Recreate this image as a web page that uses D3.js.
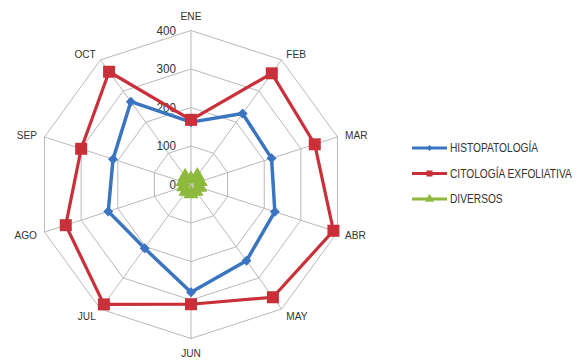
<!DOCTYPE html>
<html>
<head>
<meta charset="utf-8">
<script src="https://cdn.jsdelivr.net/npm/d3@7"></script>
<style>
  body { margin: 0; background: #fff; }
  text { font-family: "Liberation Sans", Arial, sans-serif; fill: #333; }
</style>
</head>
<body>
<svg id="chart" width="587" height="360"></svg>
<script>
// Monthly counts per service, Jan–Oct
const months = ["ENE", "FEB", "MAR", "ABR", "MAY", "JUN", "JUL", "AGO", "SEP", "OCT"];
const histopatologia = [162, 228, 220, 229, 245, 280, 205, 226, 213, 266];
const citologia = [168, 357, 338, 389, 362, 311, 385, 342, 300, 362];
const diversos = [14, 28, 25, 24, 22, 24, 22, 20, 22, 26];
const tickValues = [0, 100, 200, 300, 400];
const seriesNames = ["HISTOPATOLOGÍA", "CITOLOGÍA EXFOLIATIVA", "DIVERSOS"];

const series = [
  { name: seriesNames[0], values: histopatologia, color: "#3B74C0", width: 3.5, symbol: "diamond" },
  { name: seriesNames[1], values: citologia, color: "#C9303A", width: 3.2, symbol: "square" },
  { name: seriesNames[2], values: diversos, color: "#8DBA3C", width: 4, symbol: "triangle" }
];

const svg = d3.select("#chart");
const cx = 191, cy = 184.5;
const r = d3.scaleLinear().domain([0, 400]).range([0, 154]);
const angle = d3.scaleLinear().domain([0, months.length]).range([0, 2 * Math.PI]);

const g = svg.append("g").attr("transform", `translate(${cx},${cy})`);

// Grid rings
const ring = v => d3.lineRadial()
  .angle((d, i) => angle(i))
  .radius(() => r(v))
  .curve(d3.curveLinearClosed)(months);

g.selectAll(".ring").data(tickValues.filter(v => v > 0)).join("path")
  .attr("class", "ring")
  .attr("d", d => ring(d))
  .attr("fill", "none")
  .attr("stroke", "#b8b8b8")
  .attr("stroke-width", 1);

// Spokes
g.selectAll(".spoke").data(months).join("line")
  .attr("class", "spoke")
  .attr("x1", 0).attr("y1", 0)
  .attr("x2", (d, i) => r(400) * Math.sin(angle(i)))
  .attr("y2", (d, i) => -r(400) * Math.cos(angle(i)))
  .attr("stroke", "#b8b8b8")
  .attr("stroke-width", 1);

// Category labels (condensed horizontally)
g.selectAll(".cat").data(months).join("text")
  .attr("class", "cat")
  .each(function (d, i) {
    const a = angle(i);
    const s = Math.sin(a), c = Math.cos(a);
    const rr = r(400) + 8;
    let x = rr * s, y = -rr * c;
    let anchor = "middle";
    if (s > 0.1) anchor = "start";
    else if (s < -0.1) anchor = "end";
    else y += (c > 0 ? -7 : 6);
    d3.select(this)
      .attr("transform", `translate(${x},${y}) scale(0.88,1)`)
      .attr("text-anchor", anchor)
      .attr("dominant-baseline", "central")
      .attr("font-size", 11.5)
      .text(d);
  });

// Value axis labels
g.selectAll(".tick").data(tickValues).join("text")
  .attr("class", "tick")
  .attr("transform", d => `translate(-15,${-r(d)}) scale(0.9,1)`)
  .attr("text-anchor", "end")
  .attr("dominant-baseline", "central")
  .attr("font-size", 13)
  .text(d => d);

// Marker shapes
function markerPath(type) {
  if (type === "diamond") return d3.symbol(d3.symbolSquare, 50)();
  if (type === "square") return d3.symbol(d3.symbolSquare, 144)();
  return d3.symbol(d3.symbolTriangle, 100)();
}
function markerRotate(type) { return type === "diamond" ? 45 : 0; }

const radial = d3.lineRadial()
  .angle((d, i) => angle(i))
  .radius(d => r(d))
  .curve(d3.curveLinearClosed);

series.forEach(s => {
  const sg = g.append("g");
  sg.append("path")
    .attr("d", radial(s.values))
    .attr("fill", "none")
    .attr("stroke", s.color)
    .attr("stroke-width", s.width)
    .attr("stroke-linejoin", "round");
  sg.selectAll("path.m").data(s.values).join("path")
    .attr("class", "m")
    .attr("d", markerPath(s.symbol))
    .attr("transform", (d, i) => {
      const a = angle(i);
      return `translate(${r(d) * Math.sin(a)},${-r(d) * Math.cos(a)}) rotate(${markerRotate(s.symbol)})`;
    })
    .attr("fill", s.color);
});

// Legend
const legend = svg.append("g").attr("transform", "translate(412,148)");
const item = legend.selectAll("g").data(series).join("g")
  .attr("transform", (d, i) => `translate(0,${i * 25.5})`);
item.append("line")
  .attr("x1", 0).attr("x2", 35).attr("y1", 0).attr("y2", 0)
  .attr("stroke", d => d.color).attr("stroke-width", 3);
item.append("path")
  .attr("d", d => d.symbol === "square" ? d3.symbol(d3.symbolSquare, 36)() : markerPath(d.symbol))
  .attr("transform", d => `translate(17.5,0) rotate(${markerRotate(d.symbol)}) scale(${d.symbol === "square" ? 1 : 0.6})`)
  .attr("fill", d => d.color);
item.append("text")
  .attr("transform", "translate(38,0) scale(0.85,1)")
  .attr("dominant-baseline", "central")
  .attr("font-size", 12)
  .text(d => d.name);
</script>
</body>
</html>
